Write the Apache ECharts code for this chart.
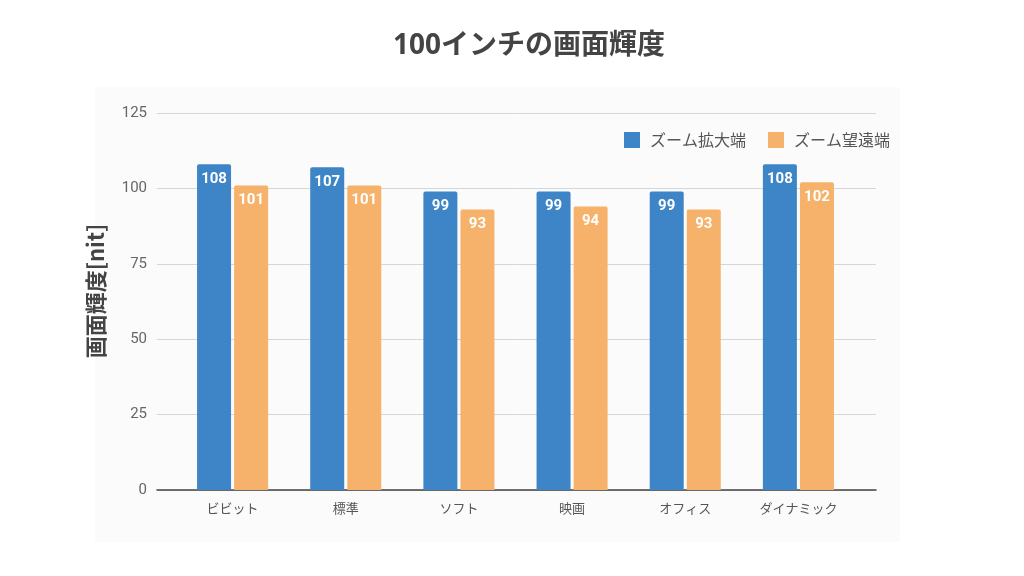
<!DOCTYPE html>
<html>
<head>
<meta charset="utf-8">
<script src="https://cdn.jsdelivr.net/npm/echarts@6/dist/echarts.min.js"></script>
<style>
  html, body { margin: 0; padding: 0; background: #fff; }
  #chart { width: 1024px; height: 576px; }
</style>
</head>
<body>
<div id="chart"></div>
<script>
'use strict';

//カテゴリ
const categories = ['ビビット', '標準', 'ソフト', '映画', 'オフィス', 'ダイナミック']

//系列
const seriesNames = ['ズーム拡大端', 'ズーム望遠端']
const wideValues = [108, 107, 99, 99, 99, 108]
const teleValues = [101, 101, 93, 94, 93, 102]

//目盛り
const yMin = 0
const yMax = 125
const yStep = 25

const fontNum = "Roboto, 'Noto Sans CJK JP', sans-serif"
const fontJP = "'Noto Sans CJK JP', sans-serif"

const myChart = echarts.init(document.getElementById('chart'))

const barLabel = {
    show: true,
    position: 'insideTop',
    distance: 7,
    color: '#fff',
    fontWeight: 'bold',
    fontSize: 15,
    fontFamily: fontNum
}

const option = {
    backgroundColor: '#fff',
    animation: false,
    title: {
        text: '100インチの画面輝度',
        left: 524,
        top: 27,
        textAlign: 'center',
        textStyle: {
            color: '#444',
            fontSize: 28,
            fontWeight: 'bold',
            fontFamily: "'Noto Sans', 'Noto Sans CJK JP', sans-serif"
        }
    },
    graphic: [{
        type: 'rect',
        z: -10,
        shape: { x: 95, y: 87, width: 805, height: 455 },
        style: { fill: '#fbfbfb' }
    }, {
        type: 'text',
        rotation: Math.PI / 2,
        style: {
            text: '画面輝度[nit]',
            fill: '#444',
            font: "bold 22px 'Noto Sans CJK JP', sans-serif",
            align: 'center',
            verticalAlign: 'middle'
        },
        x: 96,
        y: 291
    }],
    legend: {
        left: 619,
        top: 127,
        icon: 'rect',
        itemWidth: 16,
        itemHeight: 16,
        itemGap: 22,
        data: seriesNames,
        textStyle: {
            color: '#555',
            fontSize: 16,
            fontFamily: fontJP,
            padding: [0, 0, 0, 5]
        }
    },
    grid: [
        { left: 157, right: 148, top: 113, bottom: 86 },
        { left: 176, right: 169, top: 113, bottom: 86 }
    ],
    xAxis: [{
        type: 'value',
        gridIndex: 0,
        min: 0,
        max: 1,
        axisLine: { show: true, onZero: false, lineStyle: { color: '#444', width: 1.5 } },
        axisTick: { show: false },
        axisLabel: { show: false },
        splitLine: { show: false }
    }, {
        type: 'category',
        gridIndex: 1,
        data: categories,
        axisLine: { show: false },
        axisTick: { show: false },
        axisLabel: {
            color: '#555',
            fontSize: 13,
            margin: 12,
            fontFamily: fontJP
        }
    }],
    yAxis: [{
        type: 'value',
        gridIndex: 0,
        min: yMin,
        max: yMax,
        interval: yStep,
        axisLine: { show: false },
        axisTick: { show: false },
        axisLabel: {
            color: '#666',
            fontSize: 15,
            margin: 10,
            fontFamily: fontNum
        },
        splitLine: { lineStyle: { color: '#d6d6d6', width: 1 } }
    }, {
        type: 'value',
        gridIndex: 1,
        min: yMin,
        max: yMax,
        interval: yStep,
        show: false,
        splitLine: { show: false }
    }],
    series: [{
        name: seriesNames[0],
        type: 'bar',
        xAxisIndex: 1,
        yAxisIndex: 1,
        data: wideValues,
        barWidth: 34,
        barGap: '9%',
        itemStyle: { color: '#3d85c6', borderRadius: [2, 2, 0, 0] },
        label: barLabel
    }, {
        name: seriesNames[1],
        type: 'bar',
        xAxisIndex: 1,
        yAxisIndex: 1,
        data: teleValues,
        barWidth: 34,
        itemStyle: { color: '#f6b26b', borderRadius: [2, 2, 0, 0] },
        label: barLabel
    }]
}

myChart.setOption(option)
</script>
</body>
</html>
